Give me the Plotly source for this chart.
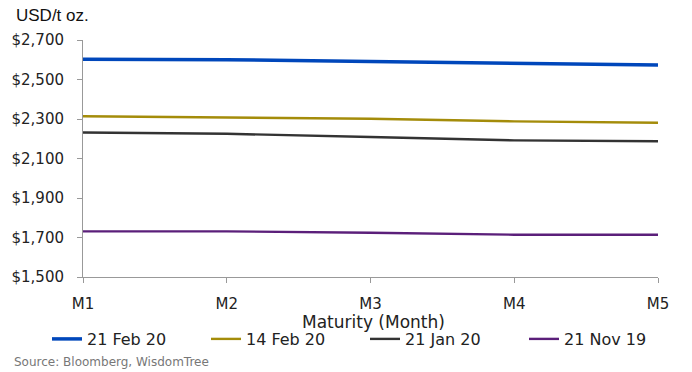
import plotly.graph_objects as go

maturities = ["M1", "M2", "M3", "M4", "M5"]
s_feb21 = [2602, 2600, 2591, 2581, 2573]
s_feb14 = [2314, 2309, 2301, 2288, 2281]
s_jan21 = [2232, 2225, 2209, 2192, 2187]
s_nov21 = [1731, 1731, 1724, 1714, 1714]
names = ["21 Feb 20", "14 Feb 20", "21 Jan 20", "21 Nov 19"]
colors = ["#0047BB", "#A48C0A", "#333333", "#5B1F7A"]
widths = [3.5, 2.4, 2.4, 2.4]
y_ticks = [1500, 1700, 1900, 2100, 2300, 2500, 2700]

fig = go.Figure()
for vals, nm, c, w in zip([s_feb21, s_feb14, s_jan21, s_nov21], names, colors, widths):
    fig.add_trace(go.Scatter(x=maturities, y=vals, mode="lines", name=nm,
                             line=dict(color=c, width=w)))

font_main = "DejaVu Sans, sans-serif"
W, H = 692, 372
L, R, T, B = 83, 34, 40, 95
pw, ph = W - L - R, H - T - B

def px(x):
    return (x - L) / pw

def py(y):
    return (H - B - y) / ph

fig.update_layout(
    width=W, height=H,
    margin=dict(l=L, r=R, t=T, b=B, autoexpand=False),
    plot_bgcolor="white", paper_bgcolor="white",
    font=dict(family=font_main, size=15, color="#222222"),
    showlegend=True,
    legend=dict(orientation="h", x=px(47), xanchor="left", y=py(339), yanchor="middle",
                font=dict(size=16, family=font_main, color="#222222"),
                entrywidth=114, entrywidthmode="pixels",
                bgcolor="rgba(0,0,0,0)", borderwidth=0),
    xaxis=dict(type="category", range=[0, 4], showgrid=False, showline=True,
               linecolor="#999999", linewidth=1, ticks="outside", ticklen=5,
               tickcolor="#999999", tickfont=dict(size=15), automargin=False,
               ticklabelstandoff=8),
    yaxis=dict(range=[1500, 2700], tickvals=y_ticks,
               ticktext=[f"${v:,}" for v in y_ticks], showgrid=False,
               showline=True, linecolor="#999999", linewidth=1, ticks="outside",
               ticklen=5, tickcolor="#999999", tickfont=dict(size=15), zeroline=False,
               automargin=False, ticklabelstandoff=10),
    annotations=[
        dict(text="Maturity (Month)", xref="paper", yref="paper", x=0.505, y=py(322),
             xanchor="center", yanchor="middle", showarrow=False,
             font=dict(size=17, family=font_main, color="#222222")),
        dict(text="USD/t oz.", xref="paper", yref="paper", x=px(14), y=py(16),
             xanchor="left", yanchor="middle", showarrow=False,
             font=dict(family="Liberation Sans, Arial, sans-serif", size=17, color="#111111")),
        dict(text="Source: Bloomberg, WisdomTree", xref="paper", yref="paper",
             x=px(12), y=py(362), xanchor="left", yanchor="middle", showarrow=False,
             font=dict(size=12, family=font_main, color="#777777")),
    ],
)
fig.write_html("out.html", config={"displayModeBar": False},
               post_script="document.body.style.margin='0';")
